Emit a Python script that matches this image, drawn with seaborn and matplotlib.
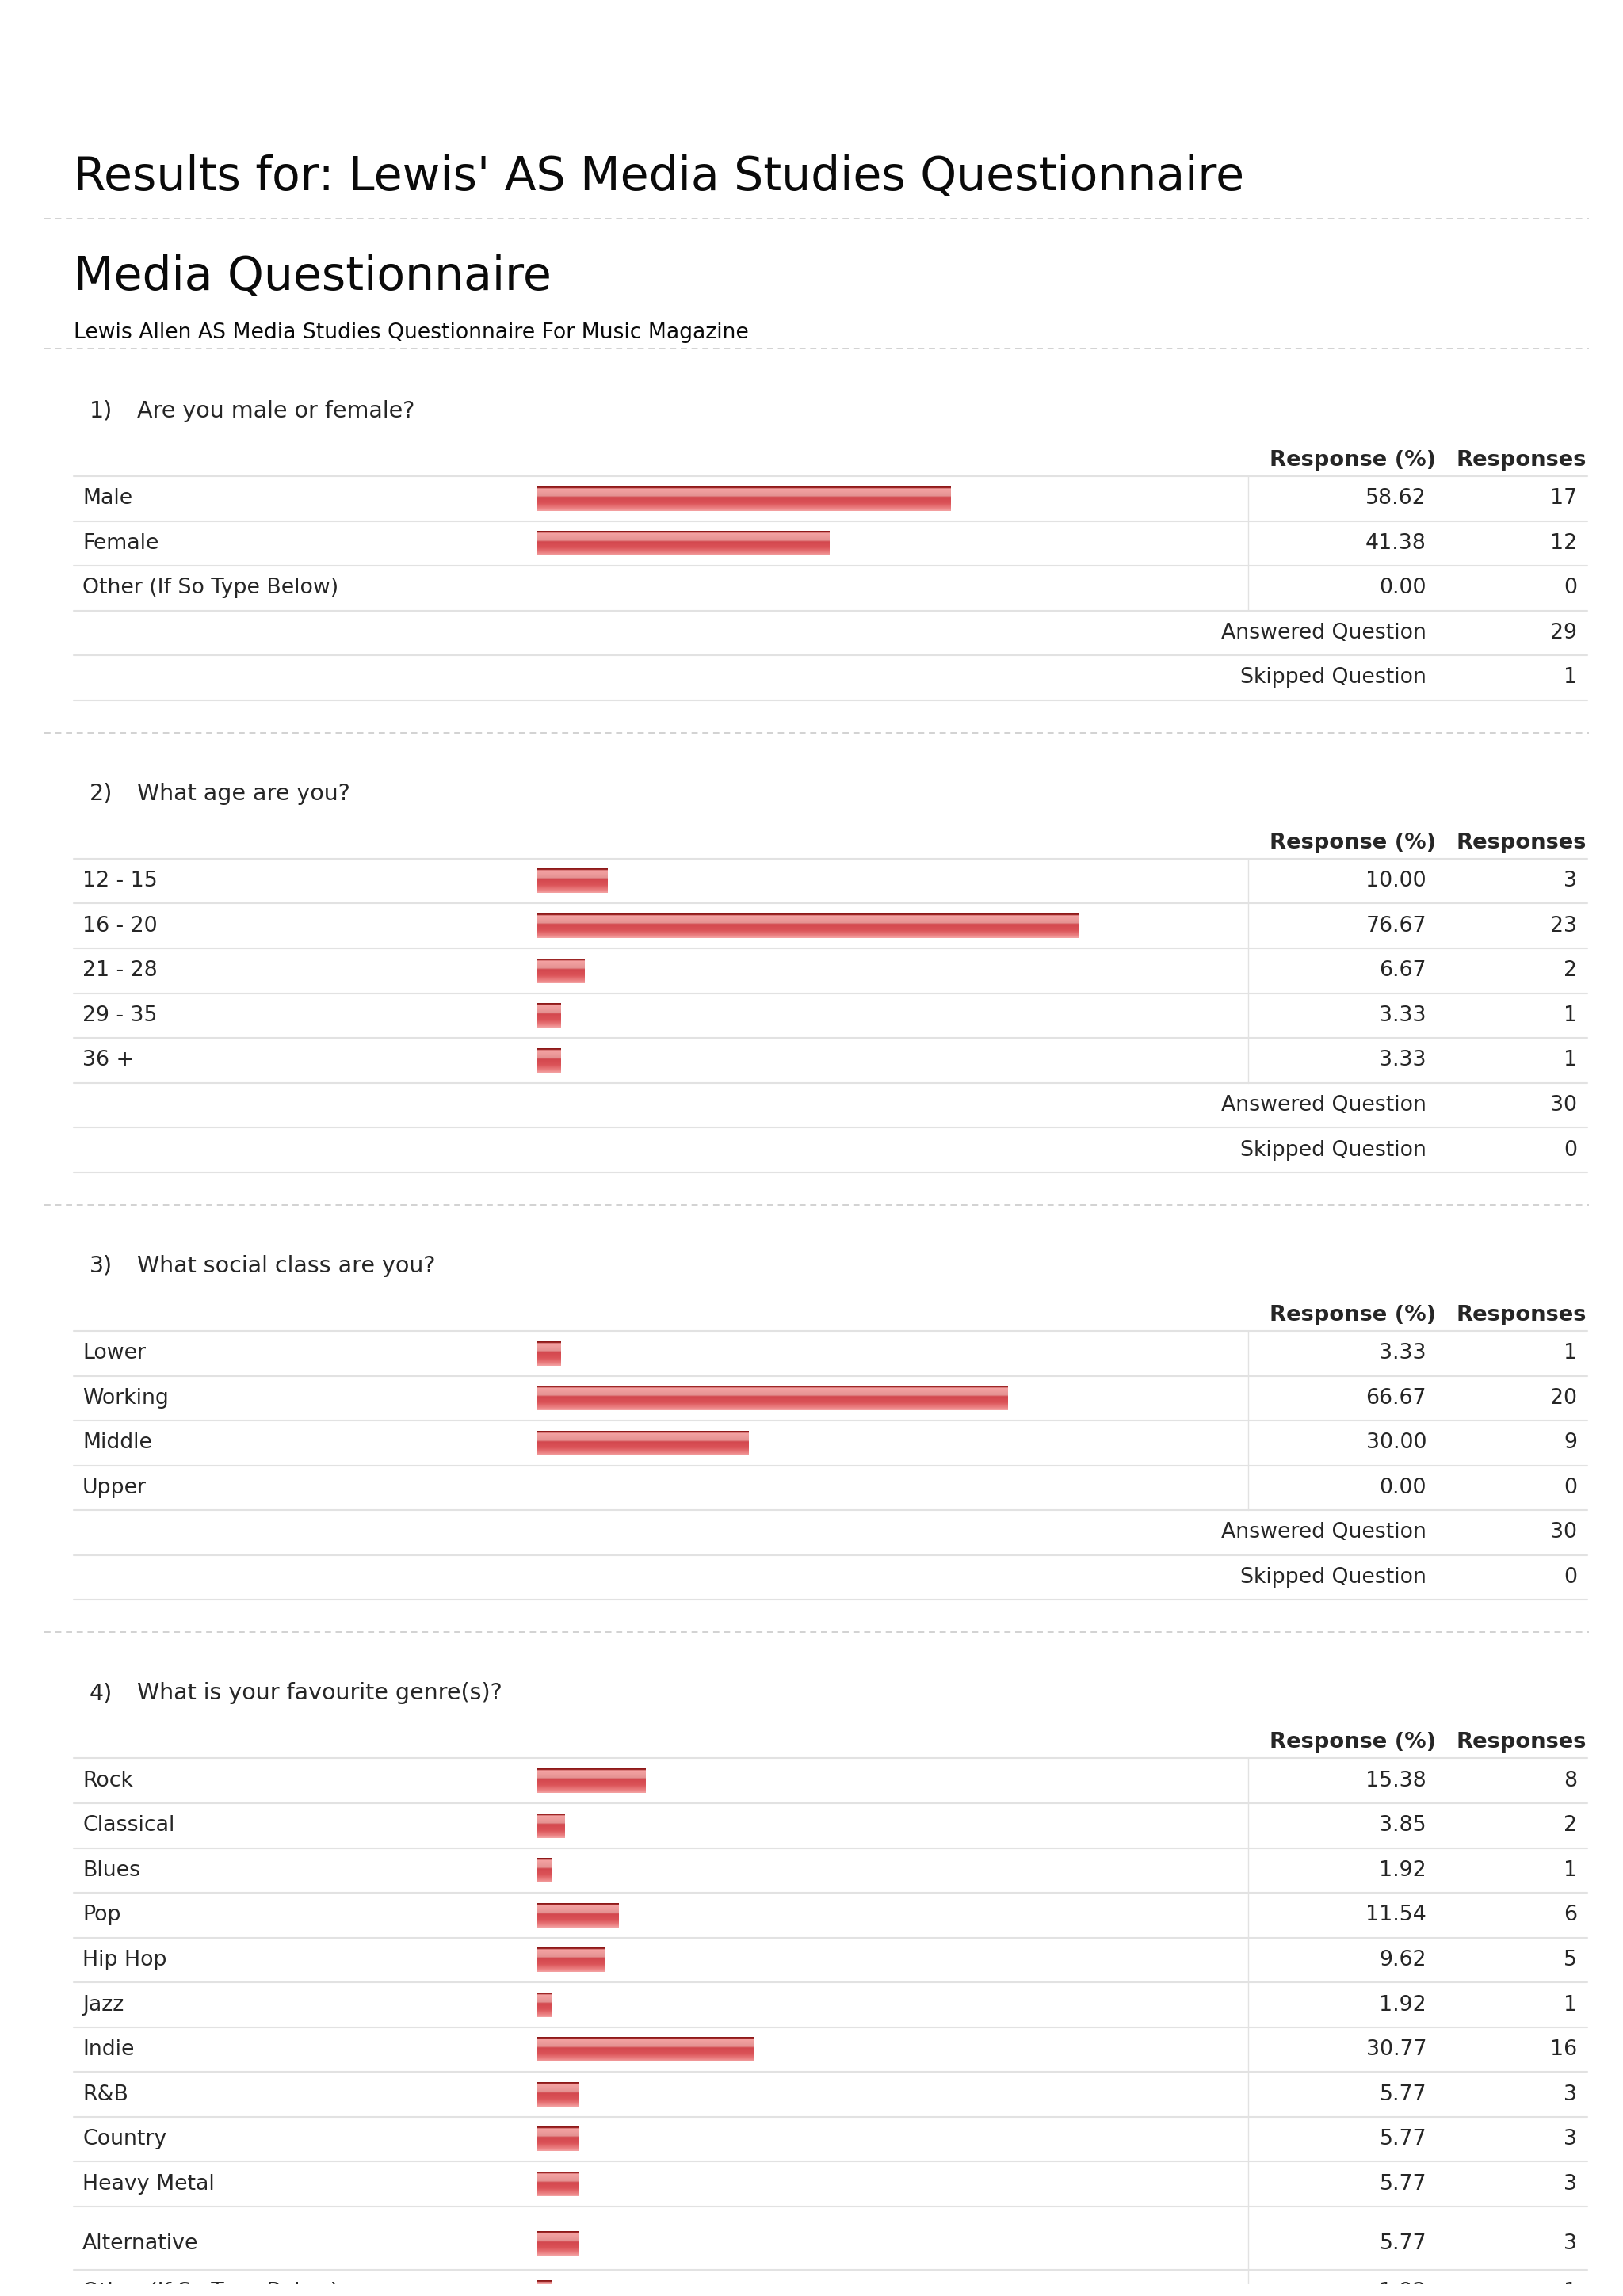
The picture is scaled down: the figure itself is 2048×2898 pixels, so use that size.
import numpy as np
import pandas as pd
import matplotlib
matplotlib.use("Agg")
import matplotlib.pyplot as plt
from matplotlib.colors import LinearSegmentedColormap
from matplotlib.patches import Rectangle
import seaborn as sns

# survey data
titles = ["Are you male or female?", "What age are you?",
          "What social class are you?", "What is your favourite genre(s)?"]
q1_labels = ["Male", "Female", "Other (If So Type Below)"]
q1_pct = [58.62, 41.38, 0.00]
q1_n = [17, 12, 0]
q2_labels = ["12 - 15", "16 - 20", "21 - 28", "29 - 35", "36 +"]
q2_pct = [10.00, 76.67, 6.67, 3.33, 3.33]
q2_n = [3, 23, 2, 1, 1]
q3_labels = ["Lower", "Working", "Middle", "Upper"]
q3_pct = [3.33, 66.67, 30.00, 0.00]
q3_n = [1, 20, 9, 0]
q4_labels = ["Rock", "Classical", "Blues", "Pop", "Hip Hop", "Jazz", "Indie", "R&B",
             "Country", "Heavy Metal", "Alternative", "Other (If So Type Below)"]
q4_pct = [15.38, 3.85, 1.92, 11.54, 9.62, 1.92, 30.77, 5.77, 5.77, 5.77, 5.77, 1.92]
q4_n = [8, 2, 1, 6, 5, 1, 16, 3, 3, 3, 3, 1]
answered = [29, 30, 30, None]
skipped = [1, 0, 0, None]

questions = [(q1_labels, q1_pct, q1_n), (q2_labels, q2_pct, q2_n),
             (q3_labels, q3_pct, q3_n), (q4_labels, q4_pct, q4_n)]

W, H = 2048, 2898
sns.set_theme(style="white")
plt.rcParams['font.family'] = ['DejaVu Sans']

fig = plt.figure(figsize=(W / 100, H / 100), dpi=100)
page = fig.add_axes([0, 0, 1, 1])
page.set_xlim(0, W)
page.set_ylim(H, 0)
page.axis("off")

BAR_X0, BAR_W = 678, 890
bars = fig.add_axes([BAR_X0 / W, 0, BAR_W / W, 1])
bars.patch.set_alpha(0)

line_c = "#e2e2e2"
dash_c = "#d2d2d2"
TX_L, TX_R = 93, 2003
PCT_R, CNT_R, VLINE = 1800, 1990, 1575
PITCH = 56.55
FS = 19.3


def dashed(y):
    page.plot([56, 2005], [y, y], color=dash_c, lw=1.4, ls=(0, (4, 3)))


def hline(y):
    page.plot([TX_L, TX_R], [y, y], color=line_c, lw=1.5)


page.text(93, 224, "Results for: Lewis' AS Media Studies Questionnaire",
          fontsize=42, va="center", color="#0a0a0a")
dashed(276)
page.text(93, 349, "Media Questionnaire", fontsize=42, va="center", color="#0a0a0a")
page.text(93, 420, "Lewis Allen AS Media Studies Questionnaire For Music Magazine",
          fontsize=19.2, va="center", color="#0a0a0a")
dashed(440)

rows = []
first = 601
cut = H
for qi, (labels, pct, n) in enumerate(questions):
    page.text(113, first - 82, f"{qi + 1})", fontsize=20.5, va="center")
    page.text(173, first - 82, titles[qi], fontsize=20.5, va="center")
    page.text(1812, first - 20, "Response (%)", fontsize=19.7, weight="bold",
              va="center", ha="right")
    page.text(2002, first - 20, "Responses", fontsize=19.7, weight="bold",
              va="center", ha="right")
    hline(first)
    top = first
    for j, lab in enumerate(labels):
        hgt = PITCH
        off = PITCH / 2
        if qi == 3 and lab == "Alternative":
            hgt, off = 80, 47
        yc = top + off
        page.text(104, yc, lab, fontsize=FS, va="center")
        page.text(PCT_R, yc, f"{pct[j]:.2f}", fontsize=FS, va="center", ha="right")
        page.text(CNT_R, yc, f"{n[j]}", fontsize=FS, va="center", ha="right")
        rows.append({"y": yc, "pct": pct[j]})
        if qi == 3 and lab == "Alternative":
            cut = top + hgt + 18
        top += hgt
        hline(top)
    page.plot([VLINE, VLINE], [first, min(top, cut)], color=line_c, lw=1)
    if answered[qi] is not None:
        for lab, val in [("Answered Question", answered[qi]),
                         ("Skipped Question", skipped[qi])]:
            yc = top + PITCH / 2
            page.text(PCT_R, yc, lab, fontsize=FS, va="center", ha="right")
            page.text(CNT_R, yc, f"{val}", fontsize=FS, va="center", ha="right")
            top += PITCH
            hline(top)
        dashed(top + 41)
        first = top + 200.2

df = pd.DataFrame(rows)
sns.barplot(data=df, x="pct", y="y", orient="h", native_scale=True, ax=bars,
            color="#e06060", saturation=1, errorbar=None, width=0.54, linewidth=0)

grad = LinearSegmentedColormap.from_list("bar", [
    (0.0, "#8a1818"), (0.05, "#9a2020"), (0.08, "#f5a3a3"), (0.38, "#e49292"),
    (0.44, "#d3474e"), (0.68, "#db5358"), (0.88, "#ea7d7f"), (1.0, "#f4a2a2")])
col = grad(np.linspace(0, 1, 64))[:, None, :]
for p in list(bars.patches):
    w = p.get_width()
    if w <= 0:
        continue
    x0, y0, h = p.get_x(), p.get_y(), p.get_height()
    bars.imshow(col, extent=[x0, x0 + w, y0 + h, y0], origin="upper",
                aspect="auto", interpolation="bilinear", zorder=3)
    p.set_alpha(0)

bars.set_xlim(0, 100)
bars.set_ylim(H, 0)
bars.axis("off")

fig.add_artist(Rectangle((0, 0), 1, (H - cut) / H, transform=fig.transFigure,
                         facecolor="white", edgecolor="none", zorder=10))

fig.savefig("out.png", dpi=100, facecolor="white")
